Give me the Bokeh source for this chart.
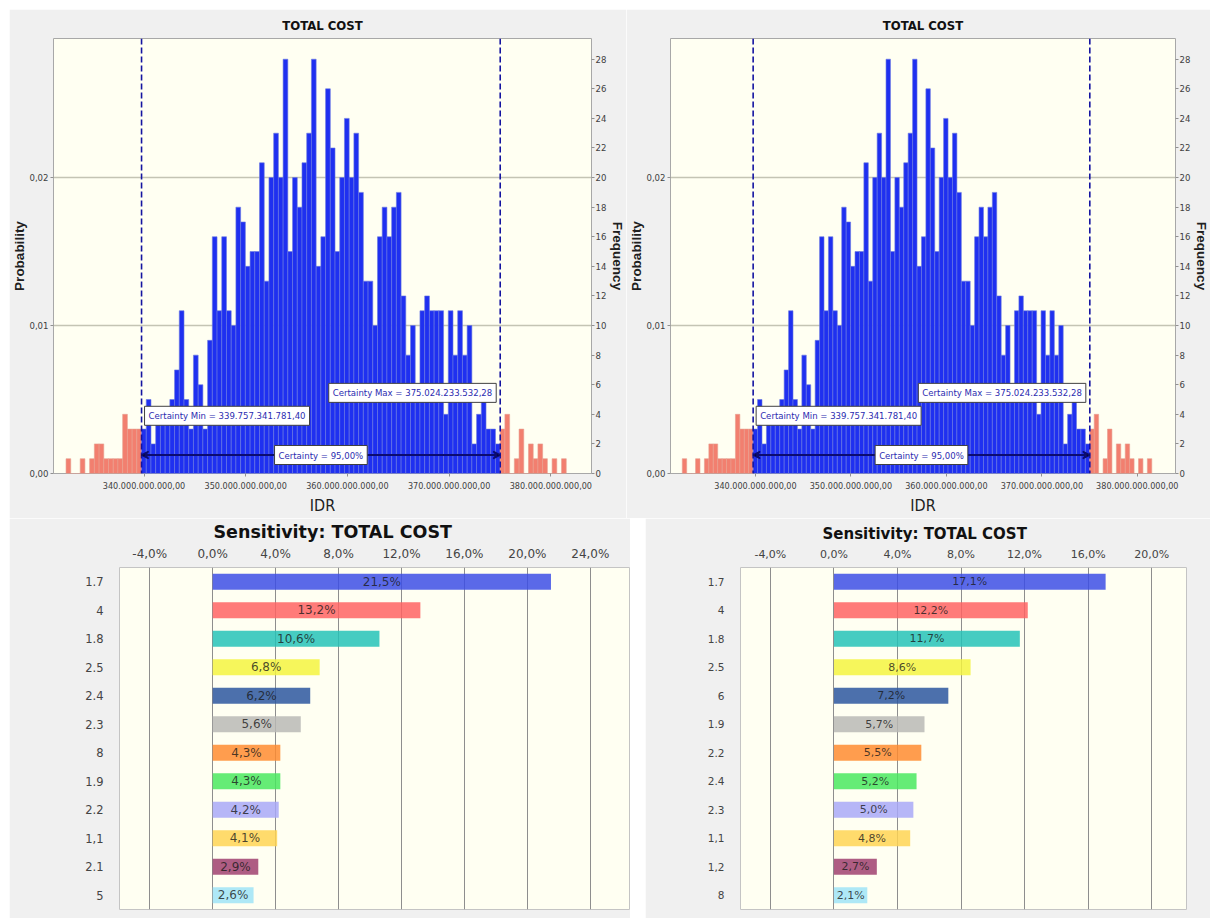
import numpy as np
from bokeh.plotting import figure
from bokeh.layouts import row, column, Spacer
from bokeh.models import (FixedTicker, Span, Label, Arrow, VeeHead, LinearAxis,
                          Range1d, FactorRange, ColumnDataSource, Title)
from bokeh.embed import file_html
from bokeh.resources import INLINE
from bokeh.core.properties import value

# ---------------- histogram data (IDR, in billions) ----------------
bin_start = 332.333
bin_width = 0.464
freq = [1, 0, 0, 1, 0, 1, 2, 2, 1, 1, 1, 1, 4, 3, 3, 3,
        3, 5, 2, 4, 4, 4, 5, 7, 11, 5, 3, 8, 6, 3, 9,
        16, 11, 16, 11, 10, 18, 17, 14, 15, 15,
        21, 13, 20, 23, 20, 28, 15, 20, 18, 21,
        23, 28, 14, 16, 26, 22, 15, 20, 24, 20,
        23, 19, 13, 13, 10, 16, 18, 16, 18, 19,
        12, 8, 10, 6, 11, 12, 11, 11, 11, 4,
        11, 8, 11, 8, 10, 2, 4, 5, 3, 3, 2,
        3, 4, 0, 1, 3, 0, 2, 1, 2, 1, 0, 1, 0, 1]
trials = 1000
cert_min = 339.757341781
cert_max = 375.024233532
cert_min_text = "Certainty Min = 339.757.341.781,40"
cert_max_text = "Certainty Max = 375.024.233.532,28"
certainty_text = "Certainty = 95,00%"
hist_title = "TOTAL COST"
x_ticks = [340, 350, 360, 370, 380]
x_tick_labels = ["340.000.000.000,00", "350.000.000.000,00", "360.000.000.000,00",
                 "370.000.000.000,00", "380.000.000.000,00"]
prob_ticks = [0.00, 0.01, 0.02]
prob_tick_labels = ["0,00", "0,01", "0,02"]
freq_ticks = list(range(0, 30, 2))

# ---------------- sensitivity data (%) ----------------
sens_title = "Sensitivity: TOTAL COST"
sens1_cats = ["1.7", "4", "1.8", "2.5", "2.4", "2.3", "8", "1.9", "2.2", "1,1", "2.1", "5"]
sens1_vals = [21.5, 13.2, 10.6, 6.8, 6.2, 5.6, 4.3, 4.3, 4.2, 4.1, 2.9, 2.6]
sens2_cats = ["1.7", "4", "1.8", "2.5", "6", "1.9", "2.2", "2.4", "2.3", "1,1", "1,2", "8"]
sens2_vals = [17.1, 12.2, 11.7, 8.6, 7.2, 5.7, 5.5, 5.2, 5.0, 4.8, 2.7, 2.1]
sens_colors = ["#3a4ce6", "#ff6262", "#22c2b8", "#f4f43e", "#2a559f", "#b9b9b5",
               "#ff8a2e", "#48e85e", "#a8a8f8", "#ffd452", "#9e3e6e", "#9fe3f7"]
sens_ticks = [-4, 0, 4, 8, 12, 16, 20, 24]

NARROW = "DejaVu Sans Condensed"
SANS = "Liberation Sans"
DJV = "DejaVu Sans"
PANEL_BG = "#f0f0f0"
PLOT_BG = "#fffff2"

X_LO, X_HI = 331.1, 384.0
Y_HI = 29.4


def side_title(text):
    return Title(text=text, align="center", text_font=SANS, text_font_size="13.5px",
                 text_font_style="bold", text_color="#202020", standoff=0)


def hist_fig(width, left_border, right_border):
    edges = bin_start + bin_width * np.arange(len(freq))
    centers = edges + bin_width / 2
    red = (centers < cert_min) | (centers > cert_max)
    src = ColumnDataSource(dict(
        left=edges, right=edges + bin_width, top=freq,
        fill=np.where(red, "#f27f6f", "#1f30f0"),
        line=np.where(red, "#e8a090", "#6a78e0")))
    p = figure(width=width, height=509, x_range=Range1d(X_LO, X_HI),
               y_range=Range1d(0, Y_HI), output_backend="svg", toolbar_location=None,
               min_border_left=left_border, min_border_right=right_border,
               min_border_top=28, min_border_bottom=45,
               background_fill_color=PLOT_BG, border_fill_color=PANEL_BG,
               outline_line_color="#a8a8a8")
    p.title.text = hist_title
    p.title.align = "center"
    p.title.text_font = NARROW
    p.title.text_font_size = "13px"
    p.title.text_font_style = "bold"
    p.title.text_color = "#111111"
    p.title.standoff = 12

    p.quad(left="left", right="right", top="top", bottom=0, fill_color="fill",
           line_color="line", line_width=0.6, source=src)

    xa = p.xaxis[0]
    xa.ticker = FixedTicker(ticks=x_ticks)
    xa.major_label_overrides = dict(zip(x_ticks, x_tick_labels))
    xa.axis_label = "IDR"
    xa.axis_label_text_font = NARROW
    xa.axis_label_text_font_size = "16px"
    xa.axis_label_text_font_style = "normal"
    xa.axis_label_text_color = "#202020"
    xa.axis_label_standoff = 4
    xa.major_label_text_font = NARROW
    xa.major_label_text_font_size = "9px"
    xa.major_label_text_color = "#404040"
    xa.major_label_standoff = 5
    xa.axis_line_color = None
    xa.major_tick_out = 3
    xa.major_tick_in = 0
    xa.major_tick_line_color = "#909090"
    xa.minor_tick_line_color = None

    ya = p.yaxis[0]
    ticks_f = [t * trials for t in prob_ticks]
    ya.ticker = FixedTicker(ticks=ticks_f)
    ya.major_label_overrides = {int(round(t)): lab for t, lab in zip(ticks_f, prob_tick_labels)}
    ya.major_label_text_font = NARROW
    ya.major_label_text_font_size = "9.5px"
    ya.major_label_text_color = "#404040"
    ya.major_label_standoff = 2
    ya.axis_line_color = None
    ya.major_tick_out = 3
    ya.major_tick_in = 0
    ya.major_tick_line_color = "#909090"
    ya.minor_tick_line_color = None

    ra = LinearAxis(ticker=FixedTicker(ticks=freq_ticks))
    ra.major_label_text_font = NARROW
    ra.major_label_text_font_size = "9.5px"
    ra.major_label_text_color = "#404040"
    ra.major_label_standoff = 1
    ra.axis_line_color = None
    ra.major_tick_out = 3
    ra.major_tick_in = 0
    ra.major_tick_line_color = "#909090"
    ra.minor_tick_line_color = None
    p.add_layout(ra, "right")

    p.add_layout(side_title("Probability"), "left")
    p.add_layout(side_title("Frequency"), "right")

    p.xgrid.grid_line_color = None
    p.ygrid.grid_line_color = "#c4c4b4"
    p.ygrid.grid_line_width = 1.5

    for loc in (cert_min, cert_max):
        p.add_layout(Span(location=loc, dimension="height", line_color="#1414a0",
                          line_dash="6 3", line_width=1.6))

    mid_y = 1.25
    p.add_layout(Arrow(start=VeeHead(size=7, line_color="#0c0c70", line_width=1.5),
                       end=VeeHead(size=7, line_color="#0c0c70", line_width=1.5),
                       x_start=cert_min, x_end=cert_max, y_start=mid_y, y_end=mid_y,
                       line_color="#0c0c70", line_width=2.2))
    common = dict(text_font=NARROW, text_font_size="9.5px", text_color="#2b2bb0",
                  background_fill_color="white", border_line_color="#404040",
                  border_line_width=1, padding=4, text_baseline="middle")
    p.add_layout(Label(x=(cert_min + cert_max) / 2, y=mid_y, text=certainty_text,
                       text_align="center", **common))
    p.add_layout(Label(x=cert_min, y=3.9, x_offset=3, text=cert_min_text,
                       text_align="left", **common))
    p.add_layout(Label(x=cert_max, y=5.45, x_offset=-4, text=cert_max_text,
                       text_align="right", **common))
    return p


def sens_fig(width, cats, vals, left_border, right_border, top_border, bottom_border,
             x_start, x_end, title_offset, title_size, tick_size, cat_size, lab_size):
    labels = [("%.1f" % v).replace(".", ",") + "%" for v in vals]
    src = ColumnDataSource(dict(cat=cats, val=vals, mid=[v / 2 for v in vals],
                                color=sens_colors[:len(cats)], lab=labels))
    p = figure(width=width, height=400, y_range=FactorRange(*reversed(cats)),
               x_range=Range1d(x_start, x_end), x_axis_location="above",
               output_backend="svg", toolbar_location=None,
               min_border_left=left_border, min_border_right=right_border,
               min_border_top=top_border, min_border_bottom=bottom_border,
               background_fill_color=PLOT_BG, border_fill_color=PANEL_BG,
               outline_line_color="#c4c4c4")
    p.title.text = sens_title
    p.title.align = "left"
    p.title.offset = title_offset
    p.title.text_font = DJV
    p.title.text_font_size = title_size
    p.title.text_font_style = "bold"
    p.title.text_color = "#111111"
    p.title.standoff = 3

    p.hbar(y="cat", left=0, right="val", height=0.56, fill_color="color",
           fill_alpha=0.84, line_color=None, source=src)
    p.text(x="mid", y="cat", text="lab", source=src, text_align="center",
           text_baseline="middle", text_font=value(DJV), text_font_size=lab_size,
           text_color="#1a1a1a", text_alpha=0.8)

    xa = p.xaxis[0]
    xa.ticker = FixedTicker(ticks=sens_ticks)
    xa.major_label_overrides = {t: ("%.1f" % t).replace(".", ",") + "%" for t in sens_ticks}
    xa.major_label_text_font = DJV
    xa.major_label_text_font_size = tick_size
    xa.major_label_text_color = "#444444"
    xa.major_label_standoff = 1
    xa.axis_line_color = None
    xa.major_tick_line_color = None
    xa.minor_tick_line_color = None

    ya = p.yaxis[0]
    ya.major_label_text_font = DJV
    ya.major_label_text_font_size = cat_size
    ya.major_label_text_color = "#444444"
    ya.major_label_standoff = 10
    ya.axis_line_color = None
    ya.major_tick_line_color = None
    ya.minor_tick_line_color = None

    p.xgrid.grid_line_color = "#8e8e8e"
    p.xgrid.grid_line_width = 1
    p.ygrid.grid_line_color = None
    return p


hA = hist_fig(617, 43, 28)
hB = hist_fig(584, 41, 28)
sC = sens_fig(621, sens1_cats, sens1_vals, 110, 1, 49, 7, -5.92, 26.49, 94,
              "17.5px", "12px", "11.5px", "12px")
sD = sens_fig(565, sens2_cats, sens2_vals, 95, 24, 49, 9, -5.88, 22.19, 82,
              "15px", "11px", "10.5px", "11px")

layout = column(Spacer(height=9),
                row(Spacer(width=9), hA, hB),
                row(Spacer(width=9), sC, Spacer(width=15), sD))
open("out.html", "w").write(file_html(layout, INLINE))
